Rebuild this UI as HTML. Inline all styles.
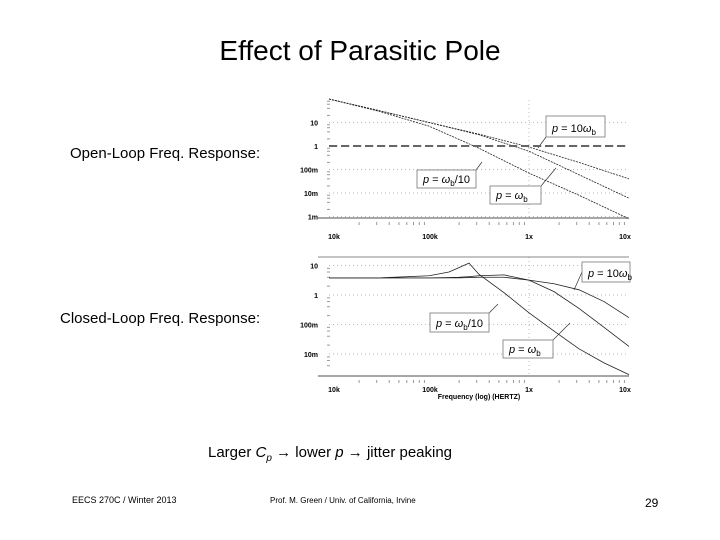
<!DOCTYPE html>
<html><head><meta charset="utf-8"><style>
html,body{margin:0;padding:0;background:#fff}
svg{display:block;font-family:"Liberation Sans",sans-serif}
</style></head><body>
<svg id="s" width="720" height="540" viewBox="0 0 720 540">
<text x="360" y="60" font-size="28" text-anchor="middle">Effect of Parasitic Pole</text>
<text x="70" y="158" font-size="15">Open-Loop Freq. Response:</text>
<text x="60" y="323" font-size="15">Closed-Loop Freq. Response:</text>
<text x="208" y="457" font-size="15">Larger <tspan font-style="italic">C</tspan><tspan font-style="italic" font-size="10" dy="4">p</tspan><tspan dy="-4"> → lower </tspan><tspan font-style="italic">p</tspan> → jitter peaking</text>
<text x="72" y="503" font-size="9">EECS 270C / Winter 2013</text>
<text x="270" y="503" font-size="8">Prof. M. Green / Univ. of California, Irvine</text>
<text x="645" y="507" font-size="12">29</text>
<g id="topchart"></g>
<g id="botchart"></g>
</svg>
<script>
const topFreqs = [4, 4.5, 5, 5.5, 6, 6.5, 7];
const topSeries10 = [100, 32, 10, 3.2, 0.9, 0.2, 0.04];
const topSeries1 = [100, 32, 10, 3, 0.6, 0.06, 0.006];
const topSeriesTenth = [100, 30, 7, 0.8, 0.07, 0.008, 0.0008];
const topYTicks = ["10", "1", "100m", "10m", "1m"];
const topYVals = [10, 1, 0.1, 0.01, 0.001];
const botFreqs = [4, 4.5, 5, 5.2, 5.3, 5.4, 5.5, 5.75, 6, 6.25, 6.5, 6.75, 7];
const botSeriesTenth = [3.8, 3.8, 4.5, 6, 8.5, 12, 5, 1.2, 0.25, 0.06, 0.015, 0.005, 0.002];
const botSeries1 = [3.8, 3.8, 3.8, 3.9, 4, 4.2, 4.5, 4.8, 3.2, 1.3, 0.35, 0.08, 0.018];
const botSeries10 = [3.8, 3.8, 3.8, 3.8, 3.8, 3.9, 4, 4, 3.2, 2.4, 1.5, 0.6, 0.17];
const botYTicks = ["10", "1", "100m", "10m"];
const botYVals = [10, 1, 0.1, 0.01];
const xTicks = ["10k", "100k", "1x", "10x"];
const xVals = [4, 5, 6, 7];

const NS = "http://www.w3.org/2000/svg";
function mk(parent, tag, attrs, txt) {
  const e = document.createElementNS(NS, tag);
  for (const k in attrs) e.setAttribute(k, attrs[k]);
  if (txt !== undefined) e.textContent = txt;
  parent.appendChild(e);
  return e;
}
const xS = lf => 329 + (lf - 4) * 100;
const xOff = [5, 1, 0, -4];

function chart(g, ax, series, yTicks, yVals, labels, bottomY, topY, topBorder, xTitle, lblDy) {
  const yS = v => ax.y1 - Math.log10(v) * ax.dec;
  yVals.forEach((v, i) => {
    const l = mk(g, "line", {x1: 329, x2: 629, y1: yS(v), y2: yS(v), stroke: "#bbb", "stroke-dasharray": "1 3"});
    
    
    const t = mk(g, "text", {x: 318, y: yS(v) + 3, "font-size": 7, "text-anchor": "end", "font-weight": "bold"}, yTicks[i]);
    
    
  });
  const lo = Math.floor(Math.log10(yVals[yVals.length - 1])) - 1;
  for (let d = lo; d <= 2; d++) for (let m = 2; m < 10; m += 2) {
    const y = yS(Math.pow(10, d) * m);
    if (y >= topY && y <= bottomY - 2) mk(g, "line", {x1: 327, x2: 330, y1: y, y2: y, stroke: "#999"});
  }
  const vg = mk(g, "line", {x1: xS(6), x2: xS(6), y1: topY, y2: bottomY, stroke: "#bbb", "stroke-dasharray": "1 3"});
  
  
  const xa = mk(g, "line", {x1: 318, x2: 629, y1: bottomY, y2: bottomY, stroke: "#888", "stroke-width": 1.5});
  
  
  if (topBorder) mk(g, "line", {x1: 318, x2: 629, y1: topY, y2: topY, stroke: "#888"});
  for (let d = 4; d < 7; d++) for (let m = 2; m < 10; m++) {
    const x = xS(d + Math.log10(m));
    mk(g, "line", {x1: x, x2: x, y1: bottomY + 4, y2: bottomY + 7, stroke: "#999"});
  }
  xTicks.forEach((t, i) => {
    const e = mk(g, "text", {x: xS(xVals[i]) + xOff[i], y: bottomY + lblDy, "font-size": 7, "text-anchor": "middle", "font-weight": "bold"}, t);
    
    
  });
  if (xTitle) {
    const e = mk(g, "text", {x: 479, y: bottomY + lblDy + 7, "font-size": 7, "text-anchor": "middle", "font-weight": "bold"}, xTitle);
    
    
  }
  series.forEach(s => {
    const pts = s.f.map((f, i) => xS(f) + "," + yS(s.v[i])).join(" ");
    const p = mk(g, "polyline", {points: pts, fill: "none", stroke: "#222", "stroke-width": 0.8, "stroke-dasharray": s.dash || ""});
    
    
  });
  labels.forEach(L => {
    mk(g, "line", {x1: L.ax1, y1: L.ay1, x2: L.ax2, y2: L.ay2, stroke: "#333", "stroke-width": 0.7});
    const r = mk(g, "rect", {x: L.x, y: L.y, width: L.w, height: L.h, fill: "#fff", stroke: "#777", "stroke-width": 0.8});
    
    
    const t = mk(g, "text", {x: L.x + 6, y: L.y + L.h - 5, "font-size": 11});
    t.innerHTML = L.html;
    
    
  });
  return yS;
}

const topG = document.getElementById("topchart");
chart(topG, {y1: 146, dec: 23.5}, [
  {f: topFreqs, v: topSeries10, name: "series-p-10wb", dash: "2 1"},
  {f: topFreqs, v: topSeries1, name: "series-p-wb", dash: "2 1"},
  {f: topFreqs, v: topSeriesTenth, name: "series-p-wb-10", dash: "2 1"}
], topYTicks, topYVals, [
  {x: 546, y: 116, w: 59, h: 21, html: '<tspan font-style="italic">p</tspan> = 10<tspan font-style="italic">ω</tspan><tspan font-size="8" dy="3">b</tspan>', ax1: 546, ay1: 137, ax2: 538, ay2: 148},
  {x: 417, y: 170, w: 59, h: 18, html: '<tspan font-style="italic">p</tspan> = <tspan font-style="italic">ω</tspan><tspan font-size="8" dy="3">b</tspan><tspan dy="-3">/10</tspan>', ax1: 476, ay1: 170, ax2: 482, ay2: 162},
  {x: 490, y: 186, w: 51, h: 18, html: '<tspan font-style="italic">p</tspan> = <tspan font-style="italic">ω</tspan><tspan font-size="8" dy="3">b</tspan>', ax1: 541, ay1: 186, ax2: 556, ay2: 168}
], 218, 100, false, null, 21);
const dl = mk(topG, "line", {x1: 329, x2: 629, y1: 146, y2: 146, stroke: "#666", "stroke-width": 2, "stroke-dasharray": "8 4"});



const botG = document.getElementById("botchart");
chart(botG, {y1: 295, dec: 29.5}, [
  {f: botFreqs, v: botSeriesTenth, name: "series-p-wb-10"},
  {f: botFreqs, v: botSeries1, name: "series-p-wb"},
  {f: botFreqs, v: botSeries10, name: "series-p-10wb"}
], botYTicks, botYVals, [
  {x: 582, y: 262, w: 48, h: 20, html: '<tspan font-style="italic">p</tspan> = 10<tspan font-style="italic">ω</tspan><tspan font-size="8" dy="3">b</tspan>', ax1: 582, ay1: 272, ax2: 574, ay2: 290},
  {x: 430, y: 313, w: 59, h: 19, html: '<tspan font-style="italic">p</tspan> = <tspan font-style="italic">ω</tspan><tspan font-size="8" dy="3">b</tspan><tspan dy="-3">/10</tspan>', ax1: 489, ay1: 313, ax2: 498, ay2: 304},
  {x: 503, y: 340, w: 50, h: 18, html: '<tspan font-style="italic">p</tspan> = <tspan font-style="italic">ω</tspan><tspan font-size="8" dy="3">b</tspan>', ax1: 553, ay1: 340, ax2: 570, ay2: 323}
], 376, 257, true, "Frequency (log) (HERTZ)", 16);
</script>
</body></html>
